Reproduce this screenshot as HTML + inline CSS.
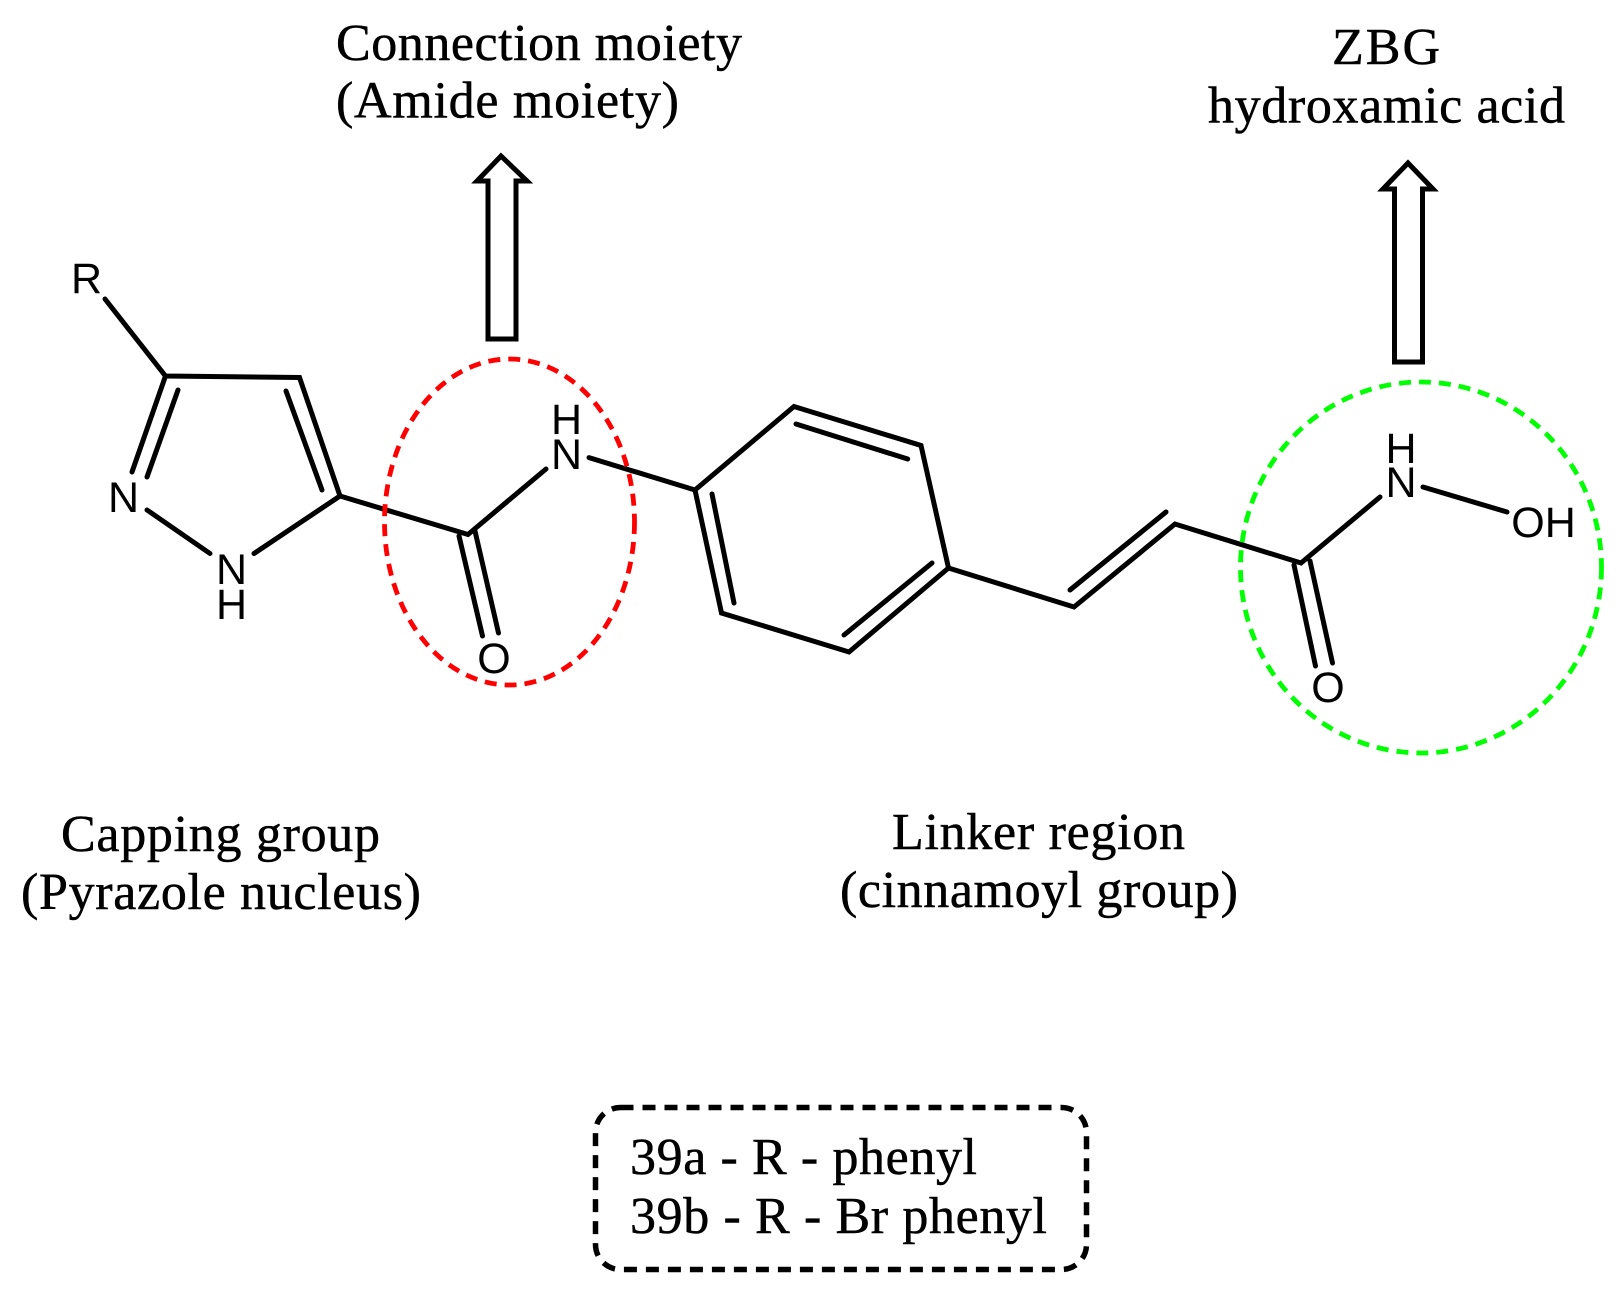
<!DOCTYPE html>
<html><head><meta charset="utf-8"><style>html,body{margin:0;padding:0;background:#fff}svg{display:block}
.s{font-family:"Liberation Serif",serif;font-size:52px;fill:#000;stroke:#000;stroke-width:.5px}
.a{font-family:"Liberation Sans",sans-serif;font-size:43px;fill:#000;text-anchor:middle}</style></head>
<body><svg width="1623" height="1294" viewBox="0 0 1623 1294" xmlns="http://www.w3.org/2000/svg">
<rect width="1623" height="1294" fill="#fff"/>
<g stroke="#000" stroke-width="5" fill="none" stroke-linecap="round" stroke-linejoin="miter">
<path d="M105 299L165.500 376L299.500 377.500L340 496L254 553.500"/>
<path d="M165.500 376L132 472M178 390L147 477M286 391L322 490M147 510L210 553.500"/>
<path d="M340 496L468 534.500L546 469M459 536L482.500 636M475 531L498.500 633M589 457.600L695 490"/>
<path d="M695 490L794 406.500L921 445.500L948.500 568L849 652L721.500 613Z"/>
<path d="M712 494L734 603M796 424L907.700 459M932 563L844 635"/>
<path d="M948.500 568L1074 607L1175 524L1301 563L1380 497M1070 590L1166 512M1294 565L1315.500 666M1310 561L1332.500 663M1423 487L1507 512"/>
</g>
<g stroke="#000" stroke-width="5" fill="#fff" stroke-linejoin="miter">
<path d="M488 339V181H477L501 156L527 181H516V339Z"/>
<path d="M1394.500 362V189H1383L1408 163L1433 189H1422.500V362Z"/>
</g>
<ellipse cx="509.500" cy="522" rx="125" ry="163" fill="none" stroke="#f00" stroke-width="4.800" stroke-dasharray="12 8"/>
<ellipse cx="1421" cy="567.500" rx="180.500" ry="185.500" fill="none" stroke="#0f0" stroke-width="4.800" stroke-dasharray="12 8"/>
<rect x="595.500" y="1107.500" width="491" height="162" rx="25" ry="25" fill="none" stroke="#000" stroke-width="5.500" stroke-dasharray="13 9"/>
<g>
<text class="a" x="86.500" y="293">R</text>
<text class="a" x="123.500" y="512">N</text>
<text class="a" x="231.500" y="584">N</text>
<text class="a" x="231.500" y="619">H</text>
<text class="a" x="566.500" y="469">N</text>
<text class="a" x="566.500" y="434">H</text>
<text class="a" x="494" y="673">O</text>
<text class="a" x="1401" y="497">N</text>
<text class="a" x="1401" y="463">H</text>
<text class="a" x="1328" y="702">O</text>
<text class="a" x="1543.500" y="537">OH</text>
</g>
<text class="s" x="336" y="60" textLength="406">Connection moiety</text>
<text class="s" x="336" y="117.500" textLength="343">(Amide moiety)</text>
<text class="s" x="1332" y="64" textLength="108">ZBG</text>
<text class="s" x="1208" y="122.500" textLength="357">hydroxamic acid</text>
<text class="s" x="61" y="851" textLength="319">Capping group</text>
<text class="s" x="21" y="909" textLength="400">(Pyrazole nucleus)</text>
<text class="s" x="892" y="849" textLength="293">Linker region</text>
<text class="s" x="840" y="907" textLength="398">(cinnamoyl group)</text>
<text class="s" x="630" y="1174" textLength="347">39a - R - phenyl</text>
<text class="s" x="630" y="1233" textLength="417">39b - R - Br phenyl</text>
</svg></body></html>
